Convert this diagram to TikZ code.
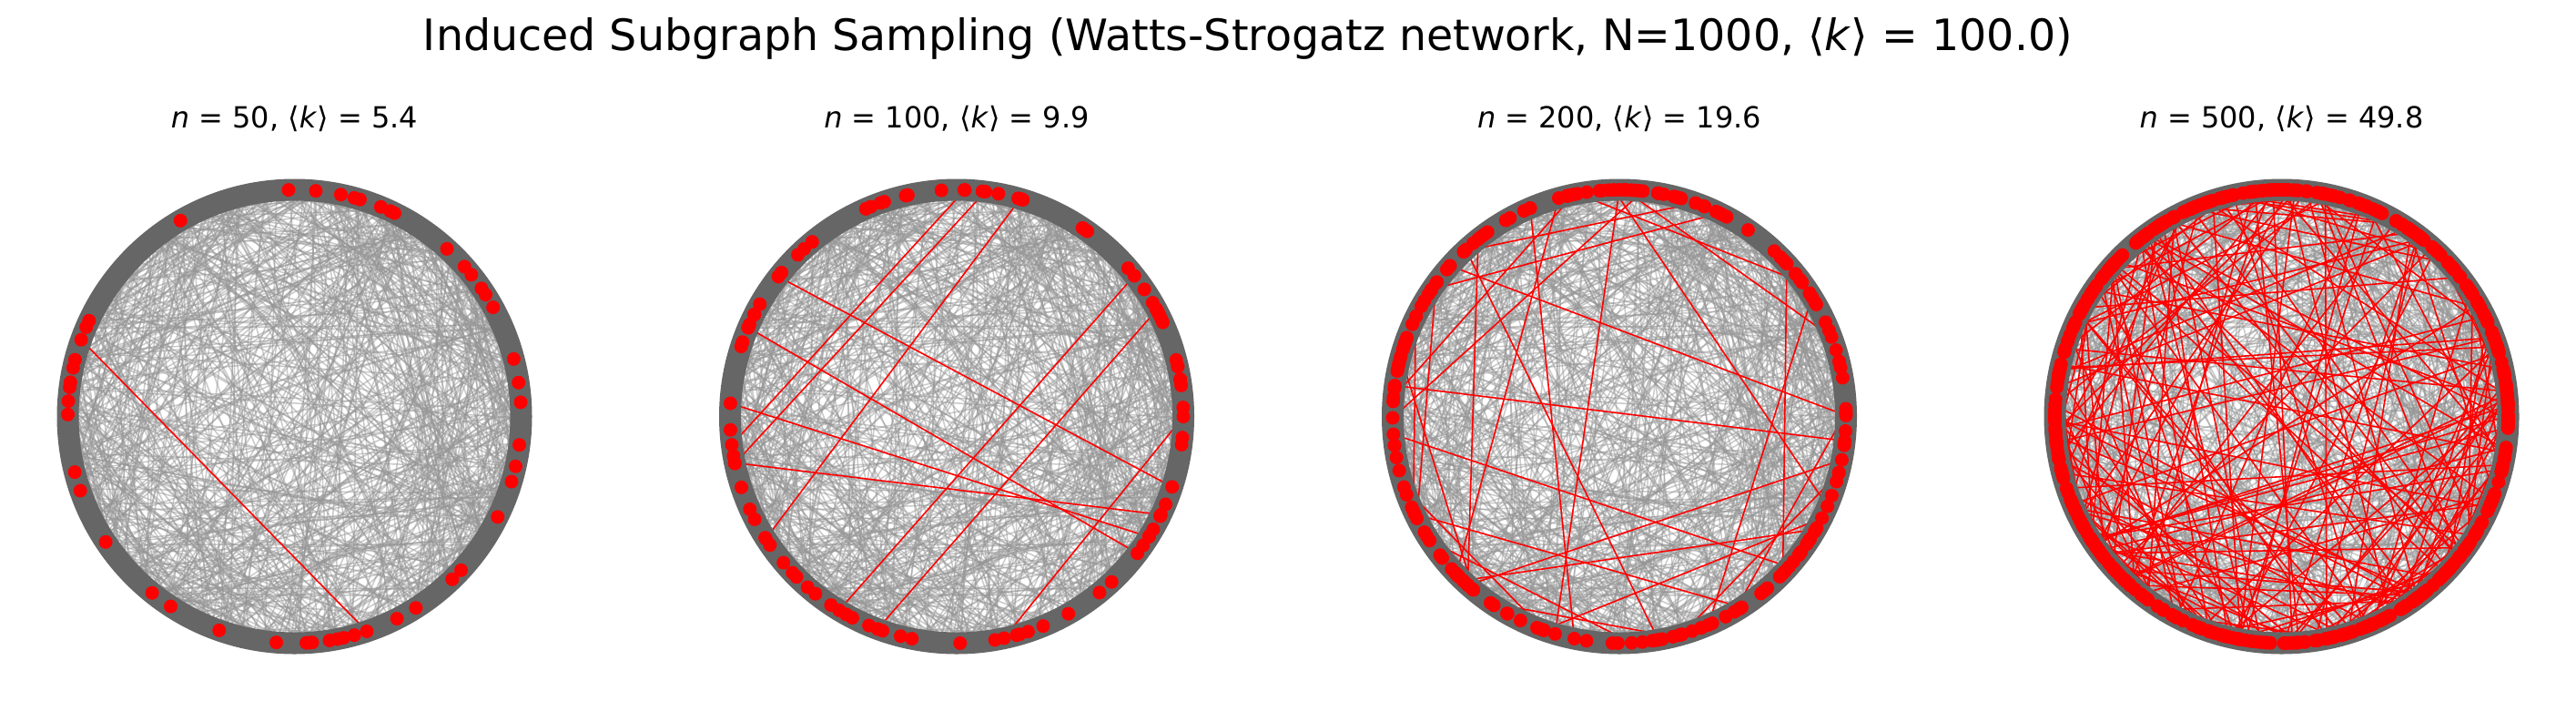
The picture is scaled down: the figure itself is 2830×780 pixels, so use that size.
\documentclass[tikz,border=0pt]{standalone}
\usepackage{fontspec}
\setmainfont{DejaVu Sans}
\definecolor{edgegray}{RGB}{150,150,150}
\definecolor{bandgray}{RGB}{102,102,102}
\tikzset{
  grayedge/.style={draw=edgegray, line width=1.5pt, draw opacity=0.5},
  rededge/.style={draw=red, line width=1.6pt},
  ringband/.style={draw=bandgray, line width=24pt},
  reddot/.style={fill=red},
  maintitle/.style={font=\fontsize{47.5}{52}\selectfont, inner sep=0pt},
  subtitle/.style={font=\fontsize{32}{36}\selectfont, inner sep=0pt},
}
\newcommand\graychords[1]{%
  \pgfmathsetseed{4242}%
  \foreach \i in {1,...,720}{%
    \draw[grayedge] ([shift={(#1)}]{360*rnd}:249pt) -- ([shift={(#1)}]{360*rnd}:249pt);}%
}
\newcommand\redchords[3]{%
  \pgfmathsetseed{#3}%
  \foreach \i in {1,...,#2}{%
    \pgfmathsetmacro\angA{360*rnd}\pgfmathsetmacro\angB{360*rnd}%
    \draw[rededge] ([shift={(#1)}]\angA:249pt) -- ([shift={(#1)}]\angB:249pt);}%
}
\newcommand\reddots[4]{%
  \pgfmathsetseed{#3}%
  \foreach \i in {1,...,#2}{%
    \pgfmathsetmacro\angA{360*rnd}\pgfmathsetmacro\angB{360*rnd}%
    \fill[reddot] ([shift={(#1)}]\angA:249pt) circle[radius=7.5pt];
    \fill[reddot] ([shift={(#1)}]\angB:249pt) circle[radius=7.5pt];}%
  \foreach \i in {1,...,#4}{%
    \pgfmathsetmacro\angA{360*rnd}%
    \fill[reddot] ([shift={(#1)}]\angA:249pt) circle[radius=7.5pt];}%
}
\begin{document}
\begin{tikzpicture}[x=1pt,y=-1pt]
\useasboundingbox[fill=white] (0,0) rectangle (2830,780);

\node[maintitle] (title) at (1371,42) {Induced Subgraph Sampling (Watts-Strogatz network, N=1000, ⟨\textit{k}⟩ = 100.0)};

\coordinate (c1) at (323.5,457.5);
\coordinate (c2) at (1051,457.5);
\coordinate (c3) at (1779,457.5);
\coordinate (c4) at (2506.5,457.5);

\node[subtitle] (t1) at (323.5,130) {\textit{n} = 50, ⟨\textit{k}⟩ = 5.4};
\node[subtitle] (t2) at (1051,130) {\textit{n} = 100, ⟨\textit{k}⟩ = 9.9};
\node[subtitle] (t3) at (1779,130) {\textit{n} = 200, ⟨\textit{k}⟩ = 19.6};
\node[subtitle] (t4) at (2506.5,130) {\textit{n} = 500, ⟨\textit{k}⟩ = 49.8};

% plot 1
\graychords{c1}
\draw[rededge] ([shift={(c1)}]160.2:249pt) -- ([shift={(c1)}]-71.4:249pt);
\draw[ringband] (c1) circle[radius=249pt];
\foreach \a in {91.5,84.6,78.2,74.7,73.2,67.6,65,63.8,120.2,47.7,41.4,38.7,34.4,32.5,28.8,
  155,156.8,160.2,165.5,167.6,171.3,172.6,176.1,179.5,14.7,8.6,3.6,-7.2,-12.7,-16.7,-26.3,
  194.2,199.1,213.6,-42.7,-45.9,-57.6,-63.1,-71.4,-74.7,-77.5,-79.1,-81.1,-85.5,-87,-94.6,
  -109.4,-123.1,-128.9,-86.2}{
  \fill[reddot] ([shift={(c1)}]\a:249pt) circle[radius=7.5pt];}

% plot 2
\graychords{c2}
\redchords{c2}{11}{777}
\draw[ringband] (c2) circle[radius=249pt];
\reddots{c2}{11}{777}{78}

% plot 3
\graychords{c3}
\redchords{c3}{38}{913}
\draw[ringband] (c3) circle[radius=249pt];
\reddots{c3}{38}{913}{124}

% plot 4
\graychords{c4}
\redchords{c4}{190}{5151}
\draw[ringband] (c4) circle[radius=249pt];
\reddots{c4}{190}{5151}{120}
\end{tikzpicture}
\end{document}
